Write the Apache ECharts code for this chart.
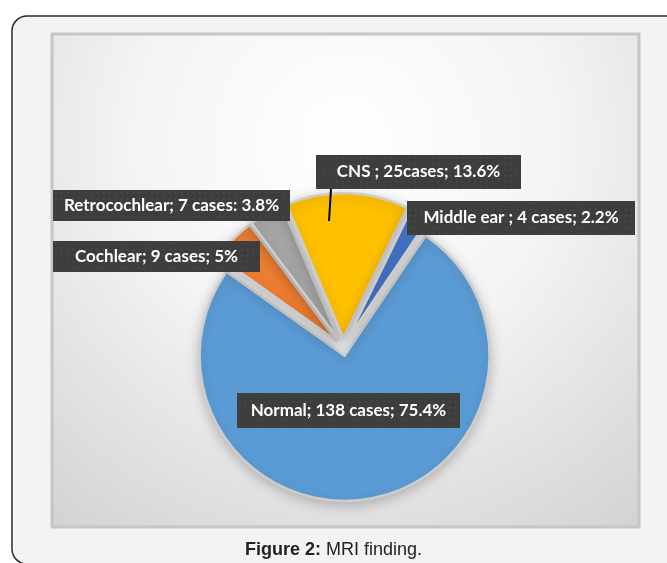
<!DOCTYPE html>
<html>
<head>
<meta charset="utf-8">
<script src="https://cdn.jsdelivr.net/npm/echarts@6/dist/echarts.min.js"></script>
<style>
html,body{margin:0;padding:0;background:#ffffff;}
#chart{width:667px;height:563px;}
</style>
</head>
<body>
<div id="chart"></div>
<script>
// ---- data ----
var categories = ['Normal', 'Cochlear', 'Retrocochlear', 'CNS', 'Middle ear'];
var values = [138, 9, 7, 25, 4];
var labelTexts = [
  'Normal; 138 cases; 75.4%',
  'Cochlear; 9 cases; 5%',
  'Retrocochlear; 7 cases: 3.8%',
  'CNS ; 25cases; 13.6%',
  'Middle ear ; 4 cases; 2.2%'
];
var colors = ['#5B9BD5', '#ED7D31', '#A5A5A5', '#FFC000', '#4472C4'];
var captionBold = 'Figure 2:';
var captionText = 'MRI finding.';

// ---- label layout (positions / sizes) ----
var labelBoxes = [
  {x: 348.5, y: 410.5, w: 223, h: 35},
  {x: 156.5, y: 256.5, w: 207, h: 31},
  {x: 171.5, y: 205.5, w: 237, h: 31},
  {x: 418.5, y: 172,   w: 205, h: 34},
  {x: 521,   y: 218,   w: 228, h: 34}
];
var cnsLeader = [[331, 189], [330, 205], [329, 221]];

function makeTexture(w, h) {
  var c = document.createElement('canvas');
  c.width = w; c.height = h;
  var g = c.getContext('2d');
  g.fillStyle = '#3d3d3d';
  g.fillRect(0, 0, w, h);
  g.fillStyle = '#4f4f4f';
  for (var yy = 2; yy < h; yy += 6) {
    for (var xx = 2; xx < w; xx += 6) {
      g.fillRect(xx, yy, 1.3, 1.3);
    }
  }
  return c;
}

var chart = echarts.init(document.getElementById('chart'), null, {renderer: 'canvas'});

var pieData = categories.map(function (name, i) {
  return {
    name: name,
    value: values[i],
    selected: true,
    itemStyle: {color: colors[i]}
  };
});

var labelGraphics = labelTexts.map(function (t, i) {
  var b = labelBoxes[i];
  return {
    type: 'text',
    z: 100,
    x: b.x - b.w / 2,
    y: b.y - b.h / 2,
    style: {
      text: t,
      x: b.w / 2,
      y: b.h / 2,
      align: 'center',
      verticalAlign: 'middle',
      fill: '#ffffff',
      font: 'bold 17px Lato, sans-serif',
      width: b.w,
      height: b.h,
      lineHeight: b.h,
      backgroundColor: {image: makeTexture(b.w, b.h)},
      shadowColor: 'rgba(0,0,0,0.5)',
      shadowBlur: 5,
      shadowOffsetX: 2,
      shadowOffsetY: 2
    }
  };
});

var option = {
  animation: false,
  backgroundColor: '#ffffff',
  title: {
    text: '{b|' + captionBold + '} {n|' + captionText + '}',
    left: 'center',
    top: 536,
    textStyle: {
      rich: {
        b: {fontFamily: 'Liberation Sans, Arial, sans-serif', fontWeight: 'bold', fontSize: 18, color: '#222'},
        n: {fontFamily: 'Liberation Sans, Arial, sans-serif', fontWeight: 'normal', fontSize: 18, color: '#222'}
      }
    }
  },
  graphic: [
    {
      type: 'rect', z: -20,
      shape: {x: 12, y: 16, width: 820, height: 548, r: 15},
      style: {fill: '#f2f3f5', stroke: '#2b2b2b', lineWidth: 1.5}
    },
    {
      type: 'rect', z: -10,
      shape: {x: 52, y: 34, width: 587, height: 493},
      style: {
        fill: {
          type: 'radial', x: 0.5, y: 0.22, r: 0.95,
          colorStops: [
            {offset: 0, color: '#ffffff'},
            {offset: 0.45, color: '#f4f4f4'},
            {offset: 1, color: '#d4d4d4'}
          ]
        },
        stroke: '#c6c6c6', lineWidth: 3
      }
    },
    {
      type: 'polyline', z: 90,
      shape: {points: cnsLeader},
      style: {stroke: '#000000', lineWidth: 2, fill: null}
    }
  ].concat(labelGraphics),
  series: [{
    type: 'pie',
    center: [343, 347],
    radius: 145,
    startAngle: 56,
    clockwise: true,
    selectedMode: 'multiple',
    selectedOffset: 9,
    emphasis: {disabled: true},
    itemStyle: {
      borderColor: '#cdcdcd',
      borderWidth: 2.5,
      shadowBlur: 12,
      shadowColor: 'rgba(0,0,0,0.22)',
      shadowOffsetY: 3
    },
    label: {show: false},
    labelLine: {show: false},
    data: pieData
  }]
};

chart.setOption(option);
</script>
</body>
</html>
